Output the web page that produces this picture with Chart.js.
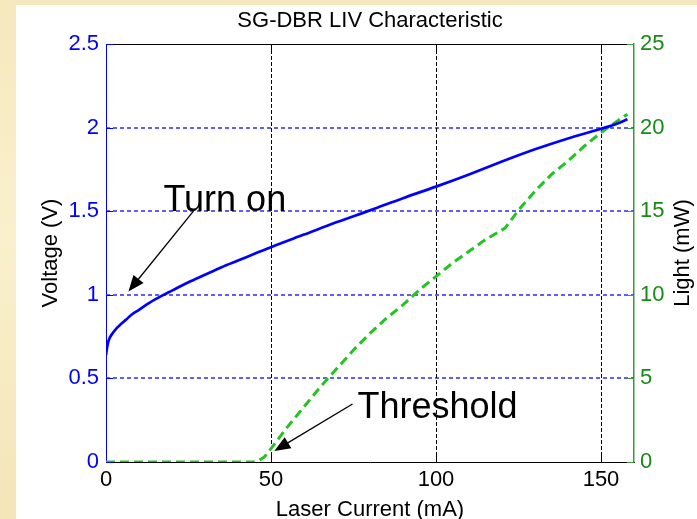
<!DOCTYPE html>
<html>
<head>
<meta charset="utf-8">
<title>SG-DBR LIV Characteristic</title>
<script src="https://cdn.jsdelivr.net/npm/chart.js@4.4.0/dist/chart.umd.min.js"></script>
<style>
  html, body { margin: 0; padding: 0; }
  body {
    width: 697px; height: 519px; overflow: hidden;
    background: linear-gradient(180deg, #f6e8bd 0%, #f9f0cd 45%, #f4e5b8 100%);
  }
  #panel { position: absolute; left: 16px; top: 5px; width: 681px; height: 514px; background: #fff; }
</style>
</head>
<body>
<div id="panel"><canvas id="livChart" width="681" height="514"></canvas></div>
<script>
// voltage sweep: laser current (mA) -> diode voltage (V)
const currentV = [0, 0.3, 0.7, 1.2, 2, 3, 4, 6, 8, 10, 13, 17, 20, 25, 30, 35, 40, 45, 50,
  60, 70, 80, 90, 100, 110, 120, 130, 140, 150, 155, 158];
const voltage = [0.64, 0.68, 0.72, 0.745, 0.77, 0.795, 0.815, 0.85, 0.885, 0.91, 0.95, 0.995, 1.025, 1.075, 1.12, 1.165, 1.205, 1.245, 1.285,
  1.36, 1.435, 1.505, 1.578, 1.647, 1.72, 1.797, 1.87, 1.935, 1.993, 2.025, 2.05];

// light sweep: laser current (mA) -> output power (mW)
const currentL = [0, 45, 46, 48, 50, 55, 60, 65, 70, 75, 80, 85, 90, 95, 100, 105, 110, 115,
  121, 124, 126, 130, 135, 140, 145, 150, 155, 158];
const light = [0, 0, 0.05, 0.3, 0.8, 2.1, 3.3, 4.5, 5.6, 6.7, 7.7, 8.6, 9.4, 10.3, 11.1, 11.9, 12.6, 13.3,
  14.0, 14.8, 15.3, 16.2, 17.2, 18.0, 18.9, 19.7, 20.4, 20.8];

const currentTicks = [0, 50, 100, 150];
const voltageTicks = [0, 0.5, 1, 1.5, 2, 2.5];
const lightTicks = [0, 5, 10, 15, 20, 25];

// callouts, anchored in (mA, V)
const notes = [
  { text: 'Turn on', at: [17.4, 1.5], from: [26.5, 1.5], to: [6.8, 1.02] },
  { text: 'Threshold', at: [76.2, 0.263], from: [74.7, 0.347], to: [51, 0.066] }
];

const FONT = '"Liberation Sans", Arial, Helvetica, sans-serif';
const BLUE = '#0000ff';
const GRID_BLUE = '#2a2aff';
const GREEN = '#22c422';
const AXIS_GREEN = '#3a9a3a';

function setTicks(values) {
  return function (scale) {
    scale.ticks = values.map(v => ({ value: v }));
  };
}

function hairline(ctx, x1, y1, x2, y2) {
  ctx.beginPath();
  ctx.moveTo(x1, y1);
  ctx.lineTo(x2, y2);
  ctx.stroke();
}

function arrow(ctx, x1, y1, x2, y2) {
  const ang = Math.atan2(y2 - y1, x2 - x1);
  const len = 16, half = 6.5;
  ctx.beginPath();
  ctx.moveTo(x1, y1);
  ctx.lineTo(x2 - Math.cos(ang) * len * 0.8, y2 - Math.sin(ang) * len * 0.8);
  ctx.stroke();
  ctx.beginPath();
  ctx.moveTo(x2, y2);
  ctx.lineTo(x2 - Math.cos(ang) * len - Math.sin(ang) * half, y2 - Math.sin(ang) * len + Math.cos(ang) * half);
  ctx.lineTo(x2 - Math.cos(ang) * len + Math.sin(ang) * half, y2 - Math.sin(ang) * len - Math.cos(ang) * half);
  ctx.closePath();
  ctx.fill();
}

// dashed grid: blue rows for the voltage axis, black columns for current
const livGrid = {
  id: 'livGrid',
  beforeDatasetsDraw(chart) {
    const { ctx, chartArea: a, scales: { x, y } } = chart;
    ctx.save();
    ctx.lineWidth = 1.5;
    ctx.strokeStyle = GRID_BLUE;
    ctx.setLineDash([4, 3]);
    voltageTicks.forEach(v => {
      if (v === 0 || v === 2.5) return;
      const py = Math.round(y.getPixelForValue(v));
      hairline(ctx, a.left, py, a.right, py);
    });
    ctx.lineWidth = 1;
    ctx.strokeStyle = '#000';
    ctx.setLineDash([4, 2]);
    currentTicks.forEach(v => {
      if (v === 0) return;
      const px = Math.round(x.getPixelForValue(v)) + 0.5;
      hairline(ctx, px, a.top, px, a.bottom);
    });
    ctx.restore();
  }
};

// top frame, inward tick marks, callouts and titles
const livDecor = {
  id: 'livDecor',
  afterDatasetsDraw(chart) {
    const { ctx, chartArea: a, scales: { x, y, y2 } } = chart;
    const t = 7;
    ctx.save();
    ctx.lineWidth = 1;

    ctx.strokeStyle = '#000';
    hairline(ctx, a.left, a.top + 0.5, a.right, a.top + 0.5);
    currentTicks.forEach(v => {
      if (v === 0) return;
      const px = Math.round(x.getPixelForValue(v)) + 0.5;
      hairline(ctx, px, a.bottom, px, a.bottom - t);
      hairline(ctx, px, a.top, px, a.top + t);
    });

    ctx.strokeStyle = BLUE;
    voltageTicks.forEach(v => {
      const py = Math.round(y.getPixelForValue(v)) + 0.5;
      hairline(ctx, a.left, py, a.left + t, py);
    });

    ctx.strokeStyle = AXIS_GREEN;
    lightTicks.forEach(v => {
      const py = Math.round(y2.getPixelForValue(v)) + 0.5;
      hairline(ctx, a.right, py, a.right - t, py);
    });

    // callouts
    ctx.strokeStyle = '#000';
    ctx.fillStyle = '#000';
    ctx.lineWidth = 1.3;
    ctx.font = '36px ' + FONT;
    ctx.textAlign = 'left';
    ctx.textBaseline = 'alphabetic';
    notes.forEach(n => {
      ctx.fillText(n.text, x.getPixelForValue(n.at[0]), y.getPixelForValue(n.at[1]));
      arrow(ctx,
        x.getPixelForValue(n.from[0]), y.getPixelForValue(n.from[1]),
        x.getPixelForValue(n.to[0]), y.getPixelForValue(n.to[1]));
    });
    ctx.restore();
  },
  afterDraw(chart) {
    const { ctx, chartArea: a } = chart;
    const midY = (a.top + a.bottom) / 2;
    ctx.save();
    ctx.fillStyle = '#000';
    ctx.textBaseline = 'alphabetic';
    ctx.textAlign = 'center';

    ctx.font = '22px ' + FONT;
    ctx.fillText('SG-DBR LIV Characteristic', (a.left + a.right) / 2, 22);
    ctx.fillText('Laser Current (mA)', (a.left + a.right) / 2, 511);

    ctx.translate(41, midY);
    ctx.rotate(-Math.PI / 2);
    ctx.fillText('Voltage (V)', 0, 0);
    ctx.restore();

    ctx.save();
    ctx.fillStyle = '#000';
    ctx.font = '22px ' + FONT;
    ctx.textAlign = 'center';
    ctx.textBaseline = 'alphabetic';
    ctx.translate(673, midY);
    ctx.rotate(-Math.PI / 2);
    ctx.fillText('Light (mW)', 0, 0);
    ctx.restore();
  }
};

const ctx = document.getElementById('livChart').getContext('2d');
const livChart = new Chart(ctx, {
  type: 'line',
  data: {
    datasets: [
      {
        label: 'Voltage',
        data: currentV.map((c, i) => ({ x: c, y: voltage[i] })),
        yAxisID: 'y',
        borderColor: BLUE,
        borderWidth: 2.7,
        pointRadius: 0,
        cubicInterpolationMode: 'monotone'
      },
      {
        label: 'Light',
        data: currentL.map((c, i) => ({ x: c, y: light[i] })),
        yAxisID: 'y2',
        borderColor: GREEN,
        borderWidth: 3,
        borderDash: [9, 5],
        pointRadius: 0,
        tension: 0
      }
    ]
  },
  options: {
    responsive: false,
    animation: false,
    devicePixelRatio: 1,
    layout: { padding: { top: 39, left: 0, right: 0, bottom: 0 } },
    plugins: {
      legend: { display: false },
      tooltip: { enabled: false },
      title: { display: false }
    },
    scales: {
      x: {
        type: 'linear',
        min: 0,
        max: 160,
        afterBuildTicks: setTicks(currentTicks),
        afterFit: s => { s.height = 57; },
        grid: { display: false, drawTicks: false },
        border: { display: true, color: '#000', width: 1 },
        ticks: {
          padding: 5,
          color: '#000',
          font: { family: FONT, size: 22 },
          callback: v => String(v)
        }
      },
      y: {
        position: 'left',
        min: 0,
        max: 2.5,
        afterBuildTicks: setTicks(voltageTicks),
        afterFit: s => { s.width = 90; },
        grid: { display: false, drawTicks: false },
        border: { display: true, color: BLUE, width: 1 },
        ticks: {
          padding: 7,
          color: BLUE,
          font: { family: FONT, size: 22 },
          callback: v => String(v)
        }
      },
      y2: {
        position: 'right',
        min: 0,
        max: 25,
        afterBuildTicks: setTicks(lightTicks),
        afterFit: s => { s.width = 63; },
        grid: { display: false, drawTicks: false },
        border: { display: true, color: AXIS_GREEN, width: 1.5 },
        ticks: {
          padding: 6,
          color: '#168a16',
          font: { family: FONT, size: 22 },
          callback: v => String(v)
        }
      }
    }
  },
  plugins: [livGrid, livDecor]
});
</script>
</body>
</html>
